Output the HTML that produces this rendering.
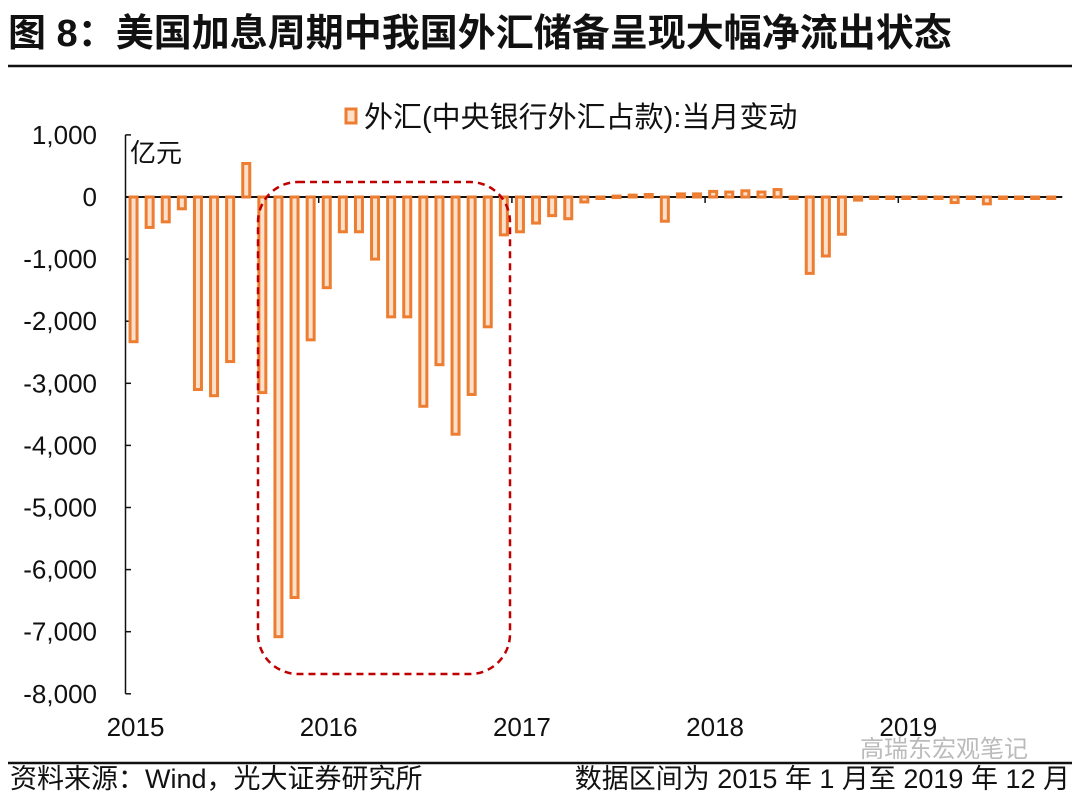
<!DOCTYPE html>
<html><head><meta charset="utf-8">
<style>
body{margin:0;background:#fff;width:1080px;height:798px;overflow:hidden;font-family:"Liberation Sans","Noto Sans CJK SC",sans-serif}
svg text{font-family:"Liberation Sans","Noto Sans CJK SC",sans-serif}
</style></head>
<body>
<svg id="chart" width="1080" height="798" xmlns="http://www.w3.org/2000/svg">
<text x="8" y="46" font-size="38" font-weight="bold" fill="#111">图 8：美国加息周期中我国外汇储备呈现大幅净流出状态</text>
<line x1="8" y1="66" x2="1072" y2="66" stroke="#111" stroke-width="2.5"/>
<line x1="8" y1="763" x2="1072" y2="763" stroke="#111" stroke-width="2.5"/>
<text x="10" y="788" font-size="27" fill="#111">资料来源：Wind，光大证券研究所</text>
<text x="1070" y="788" font-size="27" fill="#111" text-anchor="end">数据区间为 2015 年 1 月至 2019 年 12 月</text>
<text x="860" y="757" font-size="24" fill="#bbb">高瑞东宏观笔记</text>
<rect x="346" y="109" width="10" height="14" fill="#fbe0cc" stroke="#ed7d31" stroke-width="3"/>
<text x="364" y="127" font-size="29" fill="#111">外汇(中央银行外汇占款):当月变动</text>
<text x="130" y="162" font-size="26" fill="#111">亿元</text>
<g id="axes"></g>
<g id="bars"></g>
<rect x="258" y="182" width="252" height="492" rx="40" ry="40" fill="none" stroke="#c00000" stroke-width="2.5" stroke-dasharray="7,5"/>
</svg>
<script>
const years=["2015","2016","2017","2018","2019"];
const yTicks=[1000,0,-1000,-2000,-3000,-4000,-5000,-6000,-7000,-8000];
const yTickLabels=["1,000","0","-1,000","-2,000","-3,000","-4,000","-5,000","-6,000","-7,000","-8,000"];
const v2015=[-2330,-490,-400,-190,-3100,-3200,-2650,540,-3150,-7080,-6450,-2300];
const v2016=[-1460,-560,-560,-1000,-1930,-1930,-3370,-2700,-3820,-3180,-2090,-610];
const v2017=[-560,-420,-300,-350,-80,-10,15,30,40,-390,50,50];
const v2018=[90,80,100,80,120,-20,-1230,-950,-600,-50,-20,-20];
const v2019=[-20,-20,-20,-90,-15,-110,-15,-15,-20,-20];
const values=[].concat(v2015,v2016,v2017,v2018,v2019);
const NS="http://www.w3.org/2000/svg";
const x0=125.5,step=16.1,yZero=197,pxPer=62.1/1000;
const xPos=i=>x0+i*step;
const yPos=v=>yZero-v*pxPer;
const ax=document.getElementById('axes'),bg=document.getElementById('bars');
function mk(t,a,p){const e=document.createElementNS(NS,t);for(const k in a)e.setAttribute(k,a[k]);p.appendChild(e);return e;}
const yl=mk('line',{x1:125.5,y1:yPos(1000),x2:125.5,y2:yPos(-8000),stroke:'#111','stroke-width':1.5},ax);


yTicks.forEach((t,i)=>{
 const tk=mk('line',{x1:125.5,y1:yPos(t),x2:131,y2:yPos(t),stroke:'#111','stroke-width':1.5},ax);
 
 
 const tx=mk('text',{x:97,y:yPos(t)+9,'font-size':26,'text-anchor':'end',fill:'#111'},ax);
 tx.textContent=yTickLabels[i];
 
 
});
values.forEach((v,i)=>{
 const cx=xPos(i)+step/2;
 const top=Math.min(yPos(v),yZero),h=Math.max(Math.abs(yPos(v)-yZero),1.5);
 const r=mk('rect',{x:cx-3.5,y:top,width:7,height:h,fill:'#fbe0cc',stroke:'#ed7d31','stroke-width':3},bg);
 
 
});
const xl=mk('line',{x1:125.5,y1:yZero,x2:xPos(values.length)+3,y2:yZero,stroke:'#111','stroke-width':2},ax);


years.forEach((y,i)=>{
 const xt=xPos(i*12);
 if(i>0){const tk=mk('line',{x1:xt,y1:yZero,x2:xt,y2:yZero+6,stroke:'#111','stroke-width':1.5},ax);
 
 }
 const tx=mk('text',{x:xt+10,y:736,'font-size':26,'text-anchor':'middle',fill:'#111'},ax);
 tx.textContent=y;
 
 
});
</script>
</body></html>
